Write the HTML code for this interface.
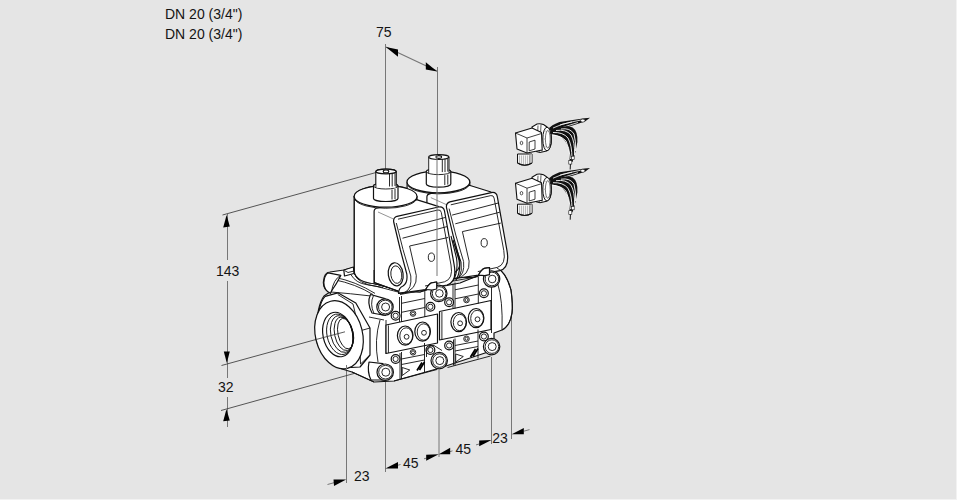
<!DOCTYPE html>
<html><head><meta charset="utf-8">
<style>
html,body{margin:0;padding:0;background:#e5e5e5;width:957px;height:500px;overflow:hidden}
svg{position:absolute;left:0;top:0}
.t{font-family:"Liberation Sans",sans-serif;font-size:14px;fill:#141414}
.d{stroke:#777;stroke-width:1;fill:none}
.e{stroke:#3a3a3a;stroke-width:0.85;fill:none}
.o{stroke:#111;stroke-width:1.2;fill:#fff;stroke-linejoin:round}
.l{stroke:#111;stroke-width:0.9;fill:none}
.ar{fill:#000;stroke:none}
</style></head>
<body>
<svg width="957" height="500" viewBox="0 0 957 500">
<rect x="956" y="0" width="1" height="500" fill="#f2f2f2"/>
<rect x="0" y="499" width="957" height="1" fill="#f2f2f2"/>

<!-- texts -->
<text class="t" x="165" y="19">DN 20 (3/4")</text>
<text class="t" x="165" y="39">DN 20 (3/4")</text>
<text class="t" x="376" y="37">75</text>
<text class="t" x="216" y="276">143</text>
<text class="t" x="218" y="392">32</text>
<text class="t" x="354" y="481">23</text>
<text class="t" x="403" y="468">45</text>
<text class="t" x="455.5" y="454">45</text>
<text class="t" x="492.3" y="443">23</text>

<!-- dimension lines -->
<g class="d">
<path d="M385.5 44V169"/>
<path d="M437.5 67V155"/>
<path d="M386 47L437 71" stroke-width="1.2"/>
<path d="M227.5 214V260M227.5 281V378M227.5 397V427"/>
<path d="M346.5 365V483"/>
<path d="M385.5 381V472"/>
<path d="M439 370V457"/>
<path d="M491.5 357V444"/>
<path d="M511.5 315V439"/>
<path d="M327.5 484.5L334 482.7M398 465.2L400.5 464.5M424 458.8L426.5 458.1M450 451.6L452.5 450.9M476 444.9L479.5 443.9M523.8 431.2L529.5 429.6"/>
</g>
<g class="e">
<path d="M222.5 215L376 172.5"/>
<path d="M221.5 365.5L316 339.5"/>
<path d="M221 410.5L354 373.5"/>
</g>
<g class="ar">
<path d="M385.8 47L398 49.6L398 56.8Z"/>
<path d="M437.2 71.4L425.8 62.2L425.8 69.4Z"/>
<path d="M226.6 215L223.2 227.6L229.8 226.4Z"/>
<path d="M226.8 363L223.8 351.4L229.8 351.4Z"/>
<path d="M226.4 409.2L223.2 421.2L229.8 420.4Z"/>
<path d="M346.2 479.5L333.5 479.5L334 486Z"/>
<path d="M385.4 468.6L398 462L398 468.6Z"/>
<path d="M438.8 454.2L426.2 454.8L426.2 460.8Z"/>
<path d="M438.8 454.2L450.2 447.8L450.2 454.2Z"/>
<path d="M491.5 440L479.2 440.6L479.2 446.2Z"/>
<path d="M511.7 434.3L523.8 428L523.8 434.3Z"/>
</g>


<!-- ===== VALVE ===== -->
<g id="valve">
<!-- valve body main -->
<path class="o" d="M323.4 282 Q324 272 330 272 L344 270 L353.5 267.5 L354.3 272 Q356 281 376 284 L398 290 L413 292 L460 283 L497 268 Q506 272 511 290 Q513 305 512 313 Q510 326 502 330 L494 333 L494 350 L440 368 L394 381 L374 382 L352 372 L342 369 Q316 352 315.6 335 Q317 305 324 296 L330 292 Q323 290 323.4 282 Z" stroke-width="1.3"/>
<!-- actuator (left coords), reused for right -->
<g id="act">
<!-- cylinder body -->
<path class="o" d="M354.3 196.4 V272 Q356 282 376 284 L398 290 L417 230 L417 196.4 Z"/>
<!-- box -->
<path class="o" d="M374.1 211.5 Q374.1 208.6 377.5 208 L400 203 L416.5 199.6 L438.2 206.4 L444 240 L450 282 L420 292 L398 291 L374.3 282.5 Z"/>
<path d="M378 212 L393.5 219" stroke="#888" stroke-width="0.9" fill="none"/>
<path class="l" d="M374.3 282.5 L398 291"/>
<!-- cap -->
<ellipse class="o" cx="385.6" cy="196.4" rx="31.4" ry="10.8"/>
<path class="l" d="M355 199.8 A31.4 10.8 0 0 0 416.3 199.8" stroke-width="0.8"/>
<!-- knob -->
<path class="o" d="M373.5 186 V198.5 A12.2 3 0 0 0 398 198.5 V186 A12.2 3 0 0 0 373.5 186 Z" stroke-width="1"/>
<path class="l" d="M373.5 186 A12.2 3 0 0 0 398 186" stroke-width="0.8"/>
<path class="l" d="M392 189.5V199.5 M395 189V199" stroke-width="0.7"/>
<rect x="375.9" y="171.5" width="20.3" height="16" fill="#fff"/>
<path class="l" d="M375.9 171.5 V188 M396.2 171.5 V187.5" stroke-width="1"/>
<ellipse class="o" cx="386" cy="171.5" rx="10.15" ry="2.4" stroke-width="1"/>
<path class="l" d="M389.5 173.5V186.5 M392.2 173V186.5 M395 173V186" stroke-width="0.7"/>
<ellipse cx="386" cy="171.4" rx="2.8" ry="1.4" fill="none" stroke="#111" stroke-width="1.1"/>
<!-- cover -->
<path class="o" d="M397 216.3 L438.5 207 Q443.5 206 444.5 211 L454 264 Q457.5 282 447 285 L436.7 287 L425.7 289.5 L398.6 293.4 Q398.5 288 403 286 Q408 283 406.8 274 L400.4 250 L393.8 222.5 Q392.8 217.8 397 216.3 Z" stroke-width="1.2"/>
<path class="l" d="M398 219.2 L438 210 Q440.8 209.5 441.3 212.5 L451 265 Q453.5 279 444.5 281.8 L425 286" stroke-width="0.9"/>
<path class="l" d="M396.3 223 L403 249.5 L410.8 276 Q412 289 405 292.2 L399 293.2" stroke-width="1.3"/>
<path class="l" d="M399.3 229.5 L445.5 217.4 M402.5 238.2 L447 226.6"/>
<path class="l" d="M409.6 246 L448 237.5 M409.6 246 L416.3 275.5 Q417.5 290 402 293.6"/>
<ellipse class="l" cx="431.4" cy="257.2" rx="3.1" ry="4.2"/>
<!-- tab -->
<path class="o" d="M425.7 289.5 Q429 283.5 431.5 282.8 L436.7 282 L436.7 288 Z" stroke-width="0.9"/>
</g>
<use href="#act" transform="translate(52.8,-14.4)"/>
<!-- dark gap between covers (right edge of left cover) -->
<g fill="none" stroke="#111">
<path d="M451 236 L456.5 258 Q458.5 272 453 281" stroke-width="1.1"/>
<path d="M453 240 L459 260 Q461 272 456 280" stroke-width="1.2"/>
<path d="M455.5 246 L461 262 Q462.5 271 459 278" stroke-width="1"/>
</g>
<!-- left actuator on top -->
<use href="#act"/>
<!-- sight glass -->
<ellipse class="o" cx="395.7" cy="274.3" rx="7.4" ry="11.6" stroke-width="1.5" transform="rotate(-8 395.7 274.3)"/>
<ellipse class="l" cx="396.3" cy="274.6" rx="5.4" ry="8.8" stroke-width="1.1" transform="rotate(-8 396.3 274.6)"/>

<!-- cylinder bottom double line -->
<path class="l" d="M354.5 274 Q358 284 377 286.5 L398 292"/>
<!-- flange top -->
<path class="l" d="M334.2 277.2 Q356 281.5 375 293.4" stroke-width="1.3"/>
<path class="l" d="M333.5 279.5 Q356 284 373 294.6" stroke-width="0.7"/>
<path class="l" d="M331 292 Q350 293.5 371 296"/>
<path class="l" d="M351 274.8 Q356 283 366 284.5 L383 287.5" stroke-width="0.7"/>
<path class="o" d="M343.8 270 L353.4 267 L354 273.5 L344.5 276 Z" stroke-width="0.9"/>
<path class="l" d="M344.5 270.5 L348 272.5 L354 271"/>
<path class="l" d="M374 270 V284"/>
<!-- left boss -->
<path class="o" d="M328.2 272.8 L340.8 275.4 Q337 283 331.2 291.5 L330.6 293.4 Q324 291 323.8 282.6 Q324.5 275 328.2 272.8 Z"/>
<path class="l" d="M340.8 275.4 Q333.5 279 331.4 292"/>
<!-- port hex -->
<path class="o" d="M325.2 296.4 L337.8 292.8 L355.8 303 L370 328 L370 355 L360 367 L342 368 Q318 352 315.6 335 Q318 303 325.2 296.4 Z"/>
<path class="l" d="M337.8 294.5 L353 304 L359.5 331 L360.5 364 M359.5 331 L370 328 M360.5 364 L370 355"/>
<!-- body left side between hex and face -->
<path class="l" d="M369 317 L384 320 M380 320 Q374 340 378 362 M386 320 V354 M388 325 V353"/>
<path class="l" d="M352 372 L374 382" stroke-width="1.2"/>
<!-- port ring -->
<ellipse class="o" cx="339" cy="334.8" rx="23.5" ry="34.6" transform="rotate(-14 339 334.8)" stroke-width="1.3"/>
<ellipse class="o" cx="337.8" cy="334.5" rx="14.8" ry="22.5" transform="rotate(-12 337.8 334.5)"/>
<g stroke-width="0.55" class="l">
<ellipse cx="339.8" cy="334.3" rx="12.8" ry="20.5" transform="rotate(-12 339.8 334.3)"/>
<ellipse cx="341.8" cy="334" rx="11" ry="18.7" transform="rotate(-12 341.8 334)"/>
<ellipse cx="343.8" cy="333.8" rx="9.2" ry="17" transform="rotate(-12 343.8 333.8)"/>
<ellipse cx="345.6" cy="333.6" rx="7.6" ry="15.5" transform="rotate(-12 345.6 333.6)"/>
</g>
<path d="M316 339.5 L345 331.8" stroke="#333" stroke-width="0.8" fill="none"/>
<path d="M346.5 365 V370" stroke="#777" stroke-width="1" fill="none"/>

<!-- right outlet side -->
<path class="l" d="M497 268 Q506 272 511 290 Q513 305 512 313 Q510 326 502 330 M497.5 283 Q503 300 502 330 M491.5 286 V333"/>

<!-- face module (left), reused for right -->
<g id="mod">
<path class="o" d="M386 325 L437.5 314 L437.5 343 L386 353.5 Z" stroke-width="0.9"/>
<path class="l" d="M388.4 325.4 V353"/>
<!-- upper plate -->
<path class="l" d="M399.5 297 V322 M401.5 296 V322 M424.8 290.5 V317 M400 294.5 L424.8 290 M401.5 303.3 L424.8 298.5 M401.5 312.3 L424.8 307.5"/>
<circle class="l" cx="413" cy="313.5" r="2.8"/><circle class="l" cx="413" cy="313.5" r="1.5" stroke-width="0.5"/>
<!-- lower plate -->
<path class="l" d="M400 353 V379 M401.5 352 V379 M424.5 343 V372 M401.5 359 L424.5 354.5 M401.5 364.5 L424.5 360"/>
<circle class="l" cx="413" cy="352.3" r="2.8"/><circle class="l" cx="413" cy="352.3" r="1.5" stroke-width="0.5"/>
<path class="l" d="M402.2 367.5 L409.8 370 L402.2 375.5 Z" stroke-width="1"/>
<path d="M417 370.5 L422 362.5 M419.5 370 L424.5 362" stroke="#000" stroke-width="1.7"/>
<path class="l" d="M394 381 L437 369.5" stroke-width="1.2"/>
<!-- hex screws -->
<ellipse class="o" cx="405.2" cy="335.6" rx="7.8" ry="9.6"/><ellipse class="l" cx="406.2" cy="336" rx="6.4" ry="8.2"/><circle class="l" cx="406.6" cy="336.8" r="2.4"/>
<ellipse class="o" cx="422.6" cy="331.6" rx="7.8" ry="9.6"/><ellipse class="l" cx="423.6" cy="332" rx="6.4" ry="8.2"/><circle class="l" cx="424" cy="332.8" r="2.4"/>
<!-- small screws -->
<circle class="o" cx="395.6" cy="315.8" r="4.4" stroke-width="1.1"/><circle class="l" cx="395.6" cy="315.8" r="2.6"/>
<circle class="o" cx="430.4" cy="306.8" r="4.4" stroke-width="1.1"/><circle class="l" cx="430.4" cy="306.8" r="2.6"/>
<circle class="o" cx="395.6" cy="359" r="4.4" stroke-width="1.1"/><circle class="l" cx="395.6" cy="359" r="2.6"/>
<circle class="o" cx="430.4" cy="350" r="4.4" stroke-width="1.1"/><circle class="l" cx="430.4" cy="350" r="2.6"/>
</g>
<use href="#mod" transform="translate(53.5,-13.5)"/>
<!-- clips around middle screws -->
<path class="l" d="M426.5 357 V351 Q428 345 434 345.5 L442 350.5" stroke-width="0.9"/>
<!-- left bosses -->
<path class="o" d="M370.5 294.5 L385 298.6 L385.5 315.5 L372 313 Q366.5 303 370.5 294.5 Z"/>
<path class="l" d="M373.5 295.5 Q369.5 304 374 313.5" stroke-width="0.6"/>
<path class="o" d="M369 362 L383 363.6 L386 380 L371 380 Q367 372 369 362 Z"/>
<!-- big screws -->
<g>
<circle class="o" cx="385" cy="307" r="8.2" stroke-width="1.6"/><circle class="l" cx="385.3" cy="307" r="6.8" stroke-width="0.5"/><circle class="l" cx="385.6" cy="307" r="4"/>
<circle class="o" cx="438.8" cy="293.4" r="8.2" stroke-width="1.6"/><circle class="l" cx="439.1" cy="293.4" r="6.8" stroke-width="0.5"/><circle class="l" cx="439.4" cy="293.4" r="3.8"/>
<circle class="o" cx="491.6" cy="279" r="8.2" stroke-width="1.6"/><circle class="l" cx="491.9" cy="279" r="6.8" stroke-width="0.5"/><circle class="l" cx="492.2" cy="279" r="3.8"/>
<circle class="o" cx="385.2" cy="372.2" r="8.2" stroke-width="1.6"/><circle class="l" cx="385.5" cy="372.2" r="6.8" stroke-width="0.5"/><circle class="l" cx="385.8" cy="372.2" r="4"/>
<circle class="o" cx="439.2" cy="360.6" r="8.2" stroke-width="1.6"/><circle class="l" cx="439.5" cy="360.6" r="6.8" stroke-width="0.5"/><circle class="l" cx="439.8" cy="360.6" r="4"/>
<circle class="o" cx="491.6" cy="346.6" r="8.2" stroke-width="1.6"/><circle class="l" cx="491.9" cy="346.6" r="6.8" stroke-width="0.5"/><circle class="l" cx="492.2" cy="346.6" r="4"/>
</g>
<path class="o" d="M425.7 289.5 Q429 283.5 431.5 282.8 L436.7 282 L436.7 289 L432 290 Z" stroke-width="0.9"/>
<path class="o" d="M478.5 275.1 Q481.8 269.1 484.3 268.4 L489.5 267.6 L489.5 274.6 L484.8 275.6 Z" stroke-width="0.9"/>
</g>
<path class="d" d="M437 155V276"/>

<!-- ===== CONNECTORS ===== -->
<g id="conn" transform="translate(0,1)">
<!-- wires upper branch -->
<path d="M549 127 Q556 121 563 120.5 Q575 118.5 584.6 117.2 L590 116.8 L585 120.5 Q576 123.5 566 126.5 Q558 129 552 132.5 Z" fill="#111"/>
<path d="M553 127 Q562 122.5 572 121 M556 129 Q566 125 578 121.5 M560 124 Q570 121 581 119" stroke="#fff" stroke-width="0.8" fill="none"/>
<ellipse cx="582.8" cy="119.6" rx="2.2" ry="1.5" fill="#fff" stroke="#111" stroke-width="0.6"/>
<!-- wires lower branch -->
<path d="M550 133 Q556 133.5 561 136 Q568 141 569.5 151.6 L569.6 161 L572.5 161 Q576 150 577.4 141 Q578 130 572.6 126.4 Q566 124 558 127 L551 130 Z" fill="#111"/>
<path d="M553 131.5 Q563 131 568 137 Q572 144 572 158 M556 129.5 Q566 128 571 134 Q575 141 574.5 154 M561 128 Q570 126.5 574 133 Q576 140 575.5 150 M552 134 Q561 134.5 566 140 Q569 146 570.5 158" stroke="#fff" stroke-width="0.9" fill="none"/>
<path d="M570.5 161 L570.2 168.5" stroke="#111" stroke-width="1"/>
<rect x="568.8" y="159.5" width="3" height="3.6" fill="#fff" stroke="#111" stroke-width="0.6"/>
<rect x="571.4" y="155.2" width="2.8" height="3.4" fill="#fff" stroke="#111" stroke-width="0.6"/>
<!-- gland below -->
<path d="M517.5 153 V162 Q524.7 166.5 532 162 V153 Z" fill="#f4f4f4" stroke="#111" stroke-width="1"/>
<path d="M529 154 V163 L532 162 V153 Z" fill="#bbb"/>
<path d="M519.5 154.5V163 M521.5 154.5V164 M523.5 154.5V164.5 M525.5 154.5V164.5 M527.5 154.5V164 M529.5 154.5V163.5" stroke="#777" stroke-width="0.45"/>
<path d="M517.5 162 Q524.7 166.5 532 162" stroke="#111" stroke-width="1.1" fill="none"/>
<!-- ring nut -->
<path d="M532 126 L537 123 Q543 122 547 126 Q551.5 130 551.5 138 Q551.5 148 546.5 150 L540 151.5 L536.5 150.5 Z" fill="#fff" stroke="#111" stroke-width="1.1"/>
<path d="M538 124.5 Q536 137 539.5 150.5 M541 124 Q539 137 542 150.5" stroke="#111" stroke-width="0.7" fill="none"/>
<ellipse cx="547" cy="138" rx="4.2" ry="11.8" fill="#fff" stroke="#111" stroke-width="1"/>
<ellipse cx="547.8" cy="138.2" rx="2.4" ry="8.8" fill="none" stroke="#111" stroke-width="0.6"/>
<path d="M543.5 130 H546.5 M543 138 H545.5 M543.5 146 H546.5" stroke="#777" stroke-width="0.5"/>
<!-- box -->
<path d="M515.5 132 L532 127 L541.5 131.5 L542.2 149 L527 152 L517 148 Z" fill="#fff" stroke="#111" stroke-width="1.1" stroke-linejoin="round"/>
<path d="M515.5 132 L527 137 L541.5 132.5 M527 137 L527 152" stroke="#111" stroke-width="0.8" fill="none"/>
<path d="M529.2 141 L535 139.2 L535 148 L529.2 149.8 Z" fill="#fff" stroke="#111" stroke-width="0.8"/>
<ellipse cx="521.5" cy="142" rx="1.3" ry="1.7" fill="none" stroke="#111" stroke-width="0.7"/>
</g>
<use href="#conn" transform="translate(0,50.2)"/>

</svg>
</body></html>
